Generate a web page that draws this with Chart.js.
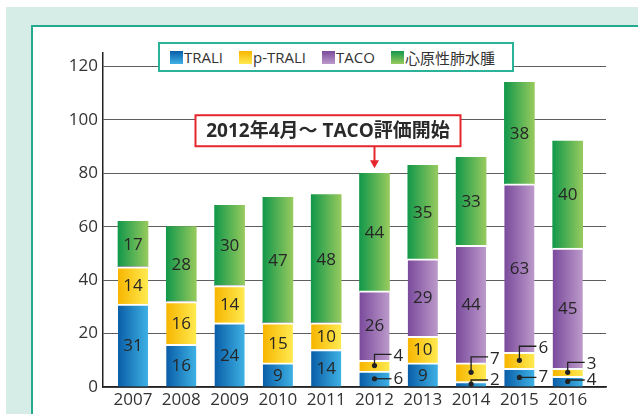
<!DOCTYPE html>
<html>
<head>
<meta charset="utf-8">
<script src="https://cdn.jsdelivr.net/npm/chart.js@4.4.1/dist/chart.umd.min.js"></script>
<style>
  html,body{margin:0;padding:0;background:#fff;width:638px;height:414px;overflow:hidden;}
  body{position:relative;font-family:"Open Sans","Noto Sans CJK JP",sans-serif;}
  .mint{position:absolute;left:6px;top:7px;right:0;bottom:0;background:#d6ece7;}
  .panel{position:absolute;left:31px;top:25px;width:700px;height:500px;background:#fff;border:2px solid #22a98e;box-sizing:border-box;}
  #c{position:absolute;left:0;top:0;}
  .legend{position:absolute;left:158px;top:42px;width:356px;height:30px;box-sizing:border-box;background:#fff;
    border:2px solid #2bb39a;display:flex;align-items:center;padding-left:10px;gap:16px;font-size:15px;color:#333;}
  .legend span{display:flex;align-items:center;}
  .legend i{display:inline-block;width:13px;height:13px;margin-right:1px;}
</style>
</head>
<body>
<div class="mint"></div>
<div class="panel"></div>
<canvas id="c" width="638" height="414"></canvas>
<div class="legend" id="legend"></div>
<script>
const years = ['2007','2008','2009','2010','2011','2012','2013','2014','2015','2016'];
const seriesNames = ['TRALI','p-TRALI','TACO','心原性肺水腫'];
const trali  = [31,16,24, 9,14, 6, 9, 2, 7, 4];
const pTrali = [14,16,14,15,10, 4,10, 7, 6, 3];
const taco   = [ 0, 0, 0, 0, 0,26,29,44,63,45];
const cardio = [17,28,30,47,48,44,35,33,38,40];
const yTicks = [0,20,40,60,80,100,120];
const noteYear = '2012';
const noteText = '2012年4月～ TACO評価開始';
const calloutBelow = 8;

// left (dark) -> right (light) gradient stops for each series
const gradStops = [
  ['#0a5ea8','#3eb1e4'],
  ['#f7b500','#ffea50'],
  ['#7a4a9c','#bc9aca'],
  ['#12984a','#97ca5e']
];
const FONT = '"Open Sans","Noto Sans CJK JP",sans-serif';

function barFill(si){
  return (c)=>{
    const chart = c.chart;
    if(!chart.chartArea || !chart.scales.x) return gradStops[si][1];
    const x = chart.scales.x.getPixelForValue(c.dataIndex);
    const g = chart.ctx.createLinearGradient(x-15,0,x+15,0);
    g.addColorStop(0,gradStops[si][0]);
    g.addColorStop(1,gradStops[si][1]);
    return g;
  };
}

const seriesValues = [trali,pTrali,taco,cardio];
const datasets = seriesValues.map((vals,si)=>({
  label: seriesNames[si],
  data: vals.map((v,i)=>({x:i,y:v})),
  backgroundColor: barFill(si),
  borderColor:'#fff',
  borderWidth: si===3 ? 0 : {top:2,left:0,right:0,bottom:0},
  borderSkipped:false,
  barThickness:30
}));

// legend
document.getElementById('legend').innerHTML = seriesNames.map((n,si)=>
  `<span><i style="background:linear-gradient(${gradStops[si][0]},${gradStops[si][1]})"></i>${n}</span>`).join('');

const segLabels = {
  id:'segLabels',
  afterDatasetsDraw(chart){
    const ctx = chart.ctx;
    const axisY = chart.scales.y.getPixelForValue(0);
    ctx.save();
    ctx.font = '17px '+FONT;
    ctx.fillStyle = '#262626';
    ctx.strokeStyle = '#222';
    ctx.lineWidth = 1.3;
    ctx.textBaseline = 'middle';
    chart.data.datasets.forEach((ds,di)=>{
      chart.getDatasetMeta(di).data.forEach((bar,i)=>{
        const v = ds.data[i].y;
        if(!v) return;
        const cy = (bar.y+bar.base)/2;
        if(v >= calloutBelow){
          ctx.textAlign = 'center';
          ctx.fillText(String(v), bar.x, cy+1);
        } else {
          const ly = di===0 ? Math.min(cy, axisY-7) : bar.y-6;
          ctx.beginPath();
          ctx.moveTo(bar.x, cy);
          ctx.lineTo(bar.x, ly);
          ctx.lineTo(bar.x+17, ly);
          ctx.stroke();
          ctx.beginPath();
          ctx.arc(bar.x, cy, 2.6, 0, Math.PI*2);
          ctx.fillStyle = '#222';
          ctx.fill();
          ctx.fillStyle = '#262626';
          ctx.textAlign = 'left';
          ctx.fillText(String(v), bar.x+19, ly+(di===0?0:2));
        }
      });
    });
    ctx.restore();
  }
};

const note = {
  id:'note',
  afterDatasetsDraw(chart){
    const idx = years.indexOf(noteYear);
    const bar = chart.getDatasetMeta(3).data[idx];
    const ctx = chart.ctx;
    const ax = bar.x, tip = bar.y-5;
    const bottom = tip-22, top = bottom-31;
    const left = ax-179, w = 265;
    ctx.save();
    ctx.strokeStyle = '#e5262c';
    ctx.fillStyle = '#e5262c';
    ctx.lineWidth = 2;
    ctx.beginPath(); ctx.moveTo(ax,bottom); ctx.lineTo(ax,tip-6); ctx.stroke();
    ctx.beginPath(); ctx.moveTo(ax-4.5,tip-8); ctx.lineTo(ax+4.5,tip-8); ctx.lineTo(ax,tip); ctx.closePath(); ctx.fill();
    ctx.fillStyle = '#fff';
    ctx.fillRect(left,top,w,bottom-top);
    ctx.strokeRect(left,top,w,bottom-top);
    ctx.fillStyle = '#2a2a2a';
    ctx.font = 'bold 19px '+FONT;
    ctx.textBaseline = 'middle';
    ctx.textAlign = 'center';
    ctx.fillText(noteText, left+w/2, (top+bottom)/2+1);
    ctx.restore();
  }
};

new Chart(document.getElementById('c'), {
  type:'bar',
  data:{ datasets },
  options:{
    responsive:false,
    devicePixelRatio:1,
    animation:false,
    layout:{padding:{left:0,top:53,right:32,bottom:0}},
    plugins:{legend:{display:false},tooltip:{enabled:false}},
    scales:{
      x:{
        type:'linear', stacked:true, offset:false, min:-0.621, max:9.793,
        afterBuildTicks:(s)=>{ s.ticks = years.map((_,i)=>({value:i})); },
        afterFit:(s)=>{ s.height = 27; },
        grid:{display:false, drawTicks:false},
        border:{display:true,color:'#222',width:1.5},
        ticks:{autoSkip:false,maxRotation:0,padding:3,color:'#333',font:{size:17,family:FONT},
          callback:(v)=>years[v]}
      },
      y:{
        stacked:true, min:0, max:125,
        afterBuildTicks:(s)=>{ s.ticks = yTicks.map(v=>({value:v})); },
        afterFit:(s)=>{ s.width = 103; },
        grid:{color:'#5e5e5e',lineWidth:1,drawTicks:false},
        border:{display:true,color:'#222',width:1.5},
        ticks:{padding:5,color:'#333',font:{size:17,family:FONT}}
      }
    }
  },
  plugins:[segLabels,note]
});
</script>
</body>
</html>
